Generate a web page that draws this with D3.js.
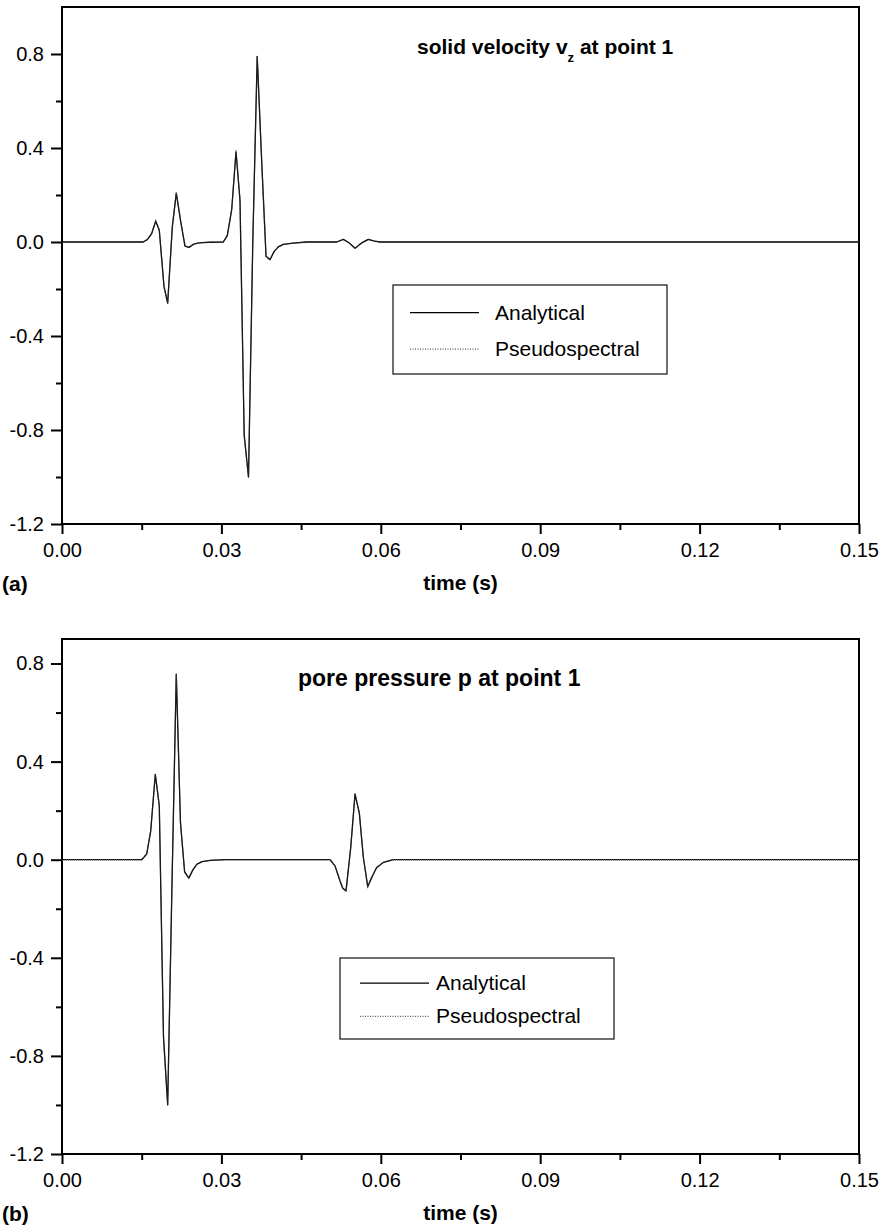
<!DOCTYPE html>
<html>
<head>
<meta charset="utf-8">
<script src="https://cdn.jsdelivr.net/npm/d3@7"></script>
<style>
  html, body { margin: 0; padding: 0; background: #fff; }
  svg { display: block; }
  text { font-family: "Liberation Sans", Arial, Helvetica, sans-serif; fill: #000; }
</style>
</head>
<body>
<svg id="chart" width="882" height="1229"></svg>
<script>
// ---------- data ----------
// (a) solid velocity v_z at point 1
const velTime = [0, 0.0153, 0.01605, 0.01688, 0.01764, 0.01831, 0.0192, 0.01989, 0.02076, 0.02151, 0.02232, 0.02315, 0.0239, 0.02471, 0.0255, 0.02635, 0.02786,
  0.03036, 0.03111, 0.03194, 0.03275, 0.0335, 0.03429, 0.0351, 0.03591, 0.03674, 0.03757, 0.0384, 0.03915, 0.03994, 0.04071, 0.04165, 0.04348, 0.04606,
  0.0517, 0.05295, 0.05407, 0.05515, 0.05639, 0.05765, 0.05882, 0.05985, 0.15];
const velAnalytical = [0, 0, 0.01, 0.036, 0.088, 0.05, -0.19, -0.26, 0.064, 0.208, 0.09, -0.018, -0.023, -0.01, -0.005, -0.003, -0.001,
  0, 0.027, 0.138, 0.383, 0.177, -0.82, -1.0, 0.0, 0.79, 0.35, -0.061, -0.075, -0.04, -0.021, -0.01, -0.005, 0,
  0, 0.011, -0.004, -0.027, -0.004, 0.011, 0.004, 0, 0];
const velPseudo = [0, 0, 0.01, 0.037, 0.09, 0.05, -0.19, -0.26, 0.065, 0.21, 0.09, -0.018, -0.023, -0.01, -0.005, -0.003, -0.001,
  0, 0.028, 0.14, 0.39, 0.18, -0.83, -1.0, 0.0, 0.79, 0.35, -0.061, -0.075, -0.04, -0.021, -0.01, -0.005, 0,
  0, 0.011, -0.004, -0.027, -0.004, 0.011, 0.004, 0, 0];

// (b) pore pressure p at point 1
const presTime = [0, 0.015, 0.01594, 0.0167, 0.01756, 0.01831, 0.0191, 0.01989, 0.0207, 0.02151, 0.0223, 0.02308, 0.02387, 0.02466, 0.02541, 0.02635, 0.02786, 0.03068,
  0.05044, 0.05138, 0.05232, 0.05283, 0.05345, 0.05434, 0.05515, 0.05596, 0.05671, 0.05754, 0.05829, 0.05923, 0.06047, 0.06236, 0.15];
const presAnalytical = [0, 0, 0.023, 0.118, 0.348, 0.22, -0.72, -1.0, -0.1, 0.755, 0.15, -0.05, -0.075, -0.04, -0.018, -0.008, -0.003, 0,
  0, -0.025, -0.086, -0.115, -0.127, 0.05, 0.267, 0.19, 0.01, -0.11, -0.072, -0.032, -0.011, 0, 0];
const presPseudo = [0, 0, 0.024, 0.12, 0.35, 0.22, -0.73, -1.0, -0.1, 0.76, 0.15, -0.05, -0.075, -0.04, -0.018, -0.008, -0.003, 0,
  0, -0.025, -0.088, -0.118, -0.13, 0.05, 0.27, 0.19, 0.01, -0.11, -0.072, -0.032, -0.011, 0, 0];

const xMajorTicks = [0, 0.03, 0.06, 0.09, 0.12, 0.15];
const xMinorTicks = [0.015, 0.045, 0.075, 0.105, 0.135];
const yMajorTicks = [-1.2, -0.8, -0.4, 0.0, 0.4, 0.8];
const yMinorTicks = [-1.0, -0.6, -0.2, 0.2, 0.6];
const legendLabels = ["Analytical", "Pseudospectral"];

// ---------- drawing ----------
const svg = d3.select("#chart");
svg.append("rect").attr("width", 882).attr("height", 1229).attr("fill", "#fff");

const FONT = '"Liberation Sans", Arial, Helvetica, sans-serif';

function panel(cfg) {
  const x = d3.scaleLinear().domain([0, 0.15]).range([cfg.left, cfg.right]);
  const y = d3.scaleLinear().domain(cfg.yDomain).range([cfg.bottom, cfg.top]);
  const g = svg.append("g");

  const xa = g.append("g").attr("transform", `translate(0,${cfg.bottom})`)
    .call(d3.axisBottom(x).tickValues(xMajorTicks).tickFormat(d => d.toFixed(2)).tickSize(10).tickPadding(9));
  const xm = g.append("g").attr("transform", `translate(0,${cfg.bottom})`)
    .call(d3.axisBottom(x).tickValues(xMinorTicks).tickFormat("").tickSize(6));
  const ya = g.append("g").attr("transform", `translate(${cfg.left},0)`)
    .call(d3.axisLeft(y).tickValues(yMajorTicks).tickFormat(d => d.toFixed(1)).tickSize(11).tickPadding(7));
  const ym = g.append("g").attr("transform", `translate(${cfg.left},0)`)
    .call(d3.axisLeft(y).tickValues(yMinorTicks).tickFormat("").tickSize(6));

  [xa, xm, ya, ym].forEach(a => {
    a.select(".domain").remove();
    a.selectAll(".tick line").attr("stroke", "#000").attr("stroke-width", 2);
    a.selectAll(".tick text").attr("font-family", FONT).attr("font-size", 20).attr("fill", "#000");
  });

  g.append("rect")
    .attr("x", cfg.left).attr("y", cfg.top)
    .attr("width", cfg.right - cfg.left).attr("height", cfg.bottom - cfg.top)
    .attr("fill", "none").attr("stroke", "#000").attr("stroke-width", 2);

  const line = d3.line().x(d => x(d[0])).y(d => y(d[1]));
  g.append("path")
    .datum(cfg.time.map((t, i) => [t, cfg.ana[i]]))
    .attr("d", line).attr("fill", "none").attr("stroke", "#000").attr("stroke-width", 1.3)
    .attr("stroke-linejoin", "round");
  g.append("path")
    .datum(cfg.time.map((t, i) => [t, cfg.pse[i]]))
    .attr("d", line).attr("fill", "none").attr("stroke", "#333").attr("stroke-width", 1.2)
    .attr("stroke-dasharray", "1,1");

  const tt = g.append("text")
    .attr("x", cfg.titleX).attr("y", cfg.titleY)
    .attr("font-size", cfg.titleSize).attr("font-weight", "bold");
  cfg.title.forEach(part => {
    const ts = tt.append("tspan").text(part.t);
    if (part.sub) ts.attr("font-size", 13).attr("baseline-shift", "sub");
  });

  g.append("text").attr("x", (cfg.left + cfg.right) / 2).attr("y", cfg.bottom + 66)
    .attr("text-anchor", "middle").attr("font-size", 21).attr("font-weight", "bold").text("time (s)");
  g.append("text").attr("x", 2).attr("y", cfg.bottom + 67)
    .attr("font-size", 21).attr("font-weight", "bold").text(cfg.label);

  const L = cfg.legend;
  const lg = g.append("g");
  lg.append("rect").attr("x", L.x).attr("y", L.y).attr("width", L.w).attr("height", L.h)
    .attr("fill", "#fff").attr("stroke", "#222").attr("stroke-width", 1.3);
  const rows = [L.y + L.h * 0.31, L.y + L.h * 0.72];
  legendLabels.forEach((lab, i) => {
    lg.append("line").attr("x1", L.x + L.lx1).attr("x2", L.x + L.lx2)
      .attr("y1", rows[i]).attr("y2", rows[i])
      .attr("stroke", i === 0 ? "#000" : "#555").attr("stroke-width", 1.2)
      .attr("stroke-dasharray", i === 0 ? null : "1,1.5");
    lg.append("text").attr("x", L.x + L.tx).attr("y", rows[i] + 7)
      .attr("font-size", 21).text(lab);
  });
}

panel({
  left: 62, right: 859, top: 7, bottom: 524, yDomain: [-1.2, 1.0],
  time: velTime, ana: velAnalytical, pse: velPseudo,
  title: [{t: "solid velocity v"}, {t: "z", sub: true}, {t: " at point 1"}],
  titleX: 417, titleY: 54, titleSize: 21, label: "(a)",
  legend: {x: 393, y: 285, w: 274, h: 89, lx1: 17, lx2: 86, tx: 102}
});

panel({
  left: 62, right: 859, top: 639, bottom: 1154, yDomain: [-1.2, 0.9],
  time: presTime, ana: presAnalytical, pse: presPseudo,
  title: [{t: "pore pressure p at point 1"}],
  titleX: 298, titleY: 686, titleSize: 23, label: "(b)",
  legend: {x: 340, y: 958, w: 274, h: 81, lx1: 20, lx2: 89, tx: 96}
});
</script>
</body>
</html>
